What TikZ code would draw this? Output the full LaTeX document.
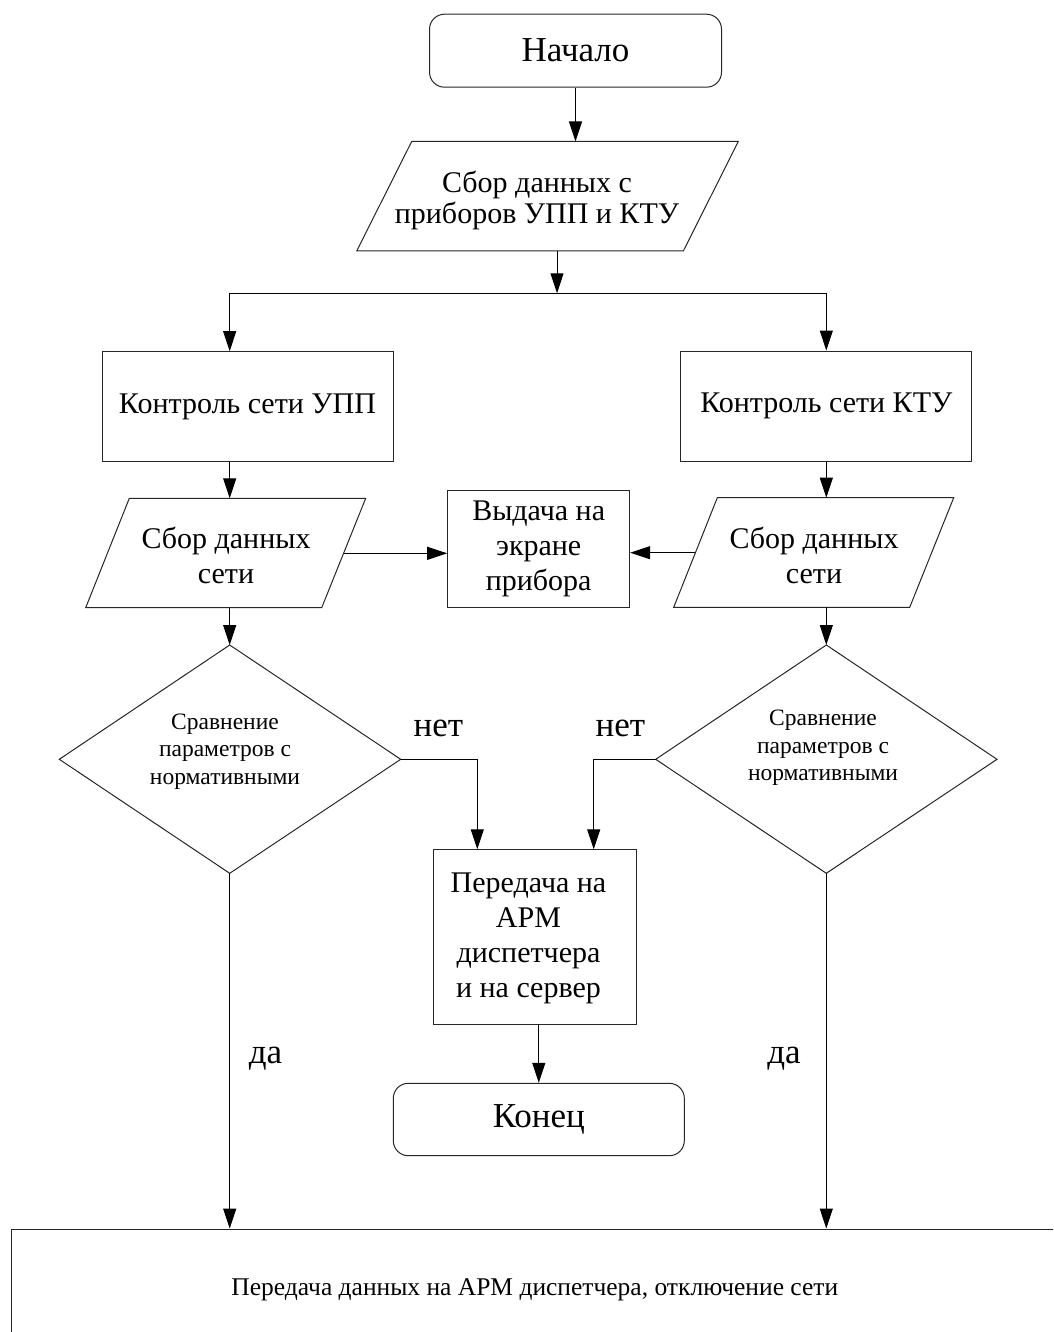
\documentclass[tikz,border=0pt]{standalone}
\usepackage{fontspec}
\setmainfont{Liberation Serif}
\usetikzlibrary{arrows.meta}
\begin{document}
\begin{tikzpicture}[x=1pt,y=-1pt,
  line/.style={draw=black!85, line width=1pt},
  arr/.style={draw=black, line width=1pt, -{Triangle[length=20pt,width=13pt]}},
  conn/.style={draw=black, line width=1pt},
  term/.style={line, rounded corners=15pt, inner sep=0pt},
  proc/.style={line, inner sep=0pt},
  big/.style={font=\fontsize{35}{40}\selectfont},
  txt/.style={font=\fontsize{30}{35}\selectfont, align=center, inner sep=0pt},
  small/.style={font=\fontsize{23.5}{27.5}\selectfont, align=center, inner sep=0pt},
  lbl/.style={font=\fontsize{35}{40}\selectfont, inner sep=0pt},
]
\clip (0,0) rectangle (1053,1332);

% start
\node[term, big, minimum width=292pt, minimum height=73pt] (start) at (575.5,50.7) {Начало};

% top input parallelogram
\draw[line] (411.7,141.5) -- (738.3,141.5) -- (683.3,251) -- (356.7,251) -- cycle;
\node[txt, font=\fontsize{30}{31}\selectfont] (inT) at (537,200) {Сбор данных с\\приборов УПП и КТУ};
\coordinate (inTop) at (575.5,141.5);
\coordinate (inBot) at (557,251);
\coordinate (split) at (557,293.3);
\coordinate (jL) at (229.7,293.3);
\coordinate (jR) at (826.3,293.3);

\draw[arr] (start.south) -- (inTop);
\draw[arr] (inBot) -- (split);
\draw[conn] (jL) -- (jR);

% control boxes
\node[proc, txt, minimum width=291pt, minimum height=110pt] (ctrlA) at (247.5,406.7) {Контроль сети УПП};
\node[proc, txt, minimum width=291.3pt, minimum height=110pt] (ctrlB) at (826.3,406) {Контроль сети КТУ};
\draw[arr] (jL) -- (jL |- ctrlA.north);
\draw[arr] (jR) -- (ctrlB.north);

% left data parallelogram
\draw[line] (129.3,498.3) -- (365.7,498.3) -- (321.7,607.7) -- (85.7,607.7) -- cycle;
\coordinate (aTop) at (229.7,498.3);
\coordinate (aBot) at (229.7,607.7);
\coordinate (aR) at (343.6,553.3);
\node[txt] (aT) at (226,555) {Сбор данных\\сети};

% right data parallelogram
\draw[line] (717.3,497.7) -- (953.7,497.7) -- (909.7,607.3) -- (673.7,607.3) -- cycle;
\coordinate (bTop) at (826.3,497.7);
\coordinate (bBot) at (826.3,607.3);
\coordinate (bL) at (695.4,552.7);
\node[txt] (bT) at (814,555) {Сбор данных\\сети};

\draw[arr] (ctrlA.south -| jL) -- (aTop);
\draw[arr] (ctrlB.south) -- (bTop);

% display box
\node[proc, txt, minimum width=182pt, minimum height=117pt] (disp) at (538.7,549.2) {Выдача на\\экране\\прибора};
\draw[arr] (aR) -- (aR -| disp.west);
\draw[arr] (bL) -- (bL -| disp.east);

% diamonds
\coordinate (dAt) at (229.7,645);
\coordinate (dAr) at (400.7,759.3);
\coordinate (dAb) at (229.7,873.3);
\coordinate (dAl) at (59.3,759.3);
\draw[line] (dAt) -- (dAr) -- (dAb) -- (dAl) -- cycle;
\node[small] (dAT) at (225,751.3) {Сравнение\\параметров с\\нормативными};

\coordinate (dBt) at (826.3,645);
\coordinate (dBr) at (997,759.3);
\coordinate (dBb) at (826.3,873.3);
\coordinate (dBl) at (655.7,759.3);
\draw[line] (dBt) -- (dBr) -- (dBb) -- (dBl) -- cycle;
\node[small] (dBT) at (823,748.2) {Сравнение\\параметров с\\нормативными};

\draw[arr] (aBot) -- (dAt);
\draw[arr] (bBot) -- (dBt);

% send box
\node[proc, minimum width=203.4pt, minimum height=174.7pt] (send) at (535,936.7) {};
\node[txt] (sendT) at (528.5,938.8) {Передача на\\АРМ\\диспетчера\\и на сервер};
\coordinate (nA) at (477.3,849.3);
\coordinate (nB) at (593.7,849.3);
\draw[arr] (dAr) -| (nA);
\draw[arr] (dBl) -| (nB);
\node[lbl] (netA) at (438.5,728.7) {нет};
\node[lbl] (netB) at (620.5,728.7) {нет};

% end
\node[term, big, minimum width=291pt, minimum height=72.4pt] (end) at (538.8,1119.5) {Конец};
\draw[arr] (end.north |- send.south) -- (end.north);

% final box
\node[proc, minimum width=1058pt, minimum height=116pt] (final) at (540.7,1287) {};
\node[font=\fontsize{25.5}{30}\selectfont, inner sep=0pt] (finalT) at (534.8,1289.3) {Передача данных на АРМ диспетчера, отключение сети};
\draw[arr] (dAb) -- (dAb |- final.north);
\draw[arr] (dBb) -- (dBb |- final.north);
\node[lbl] (daA) at (265.5,1058.5) {да};
\node[lbl] (daB) at (784,1058.5) {да};
\end{tikzpicture}
\end{document}
